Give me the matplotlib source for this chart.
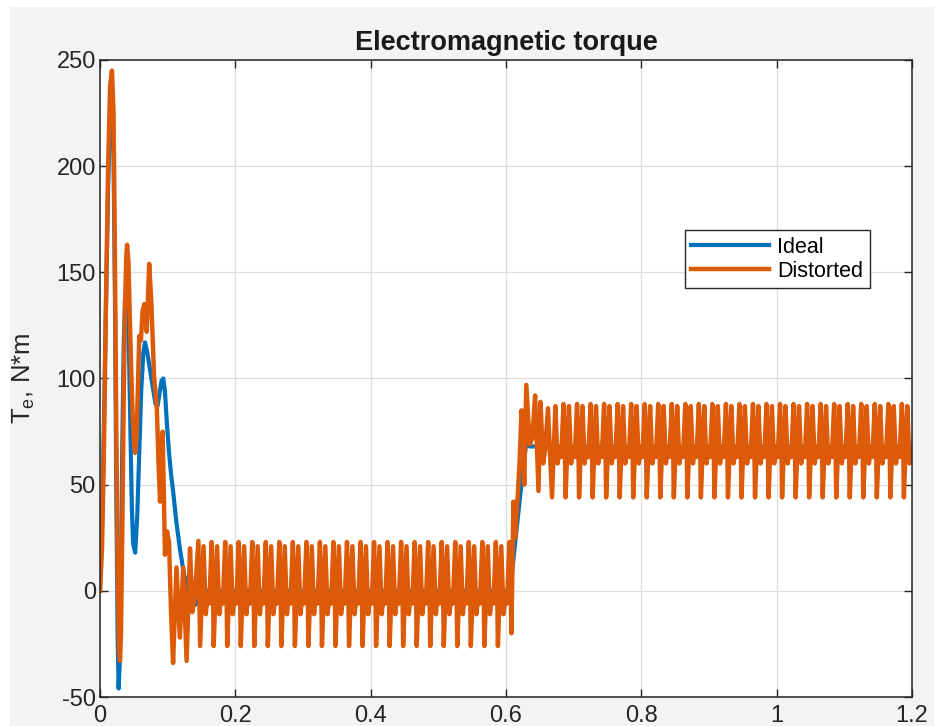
import numpy as np
import matplotlib
matplotlib.use("Agg")
import matplotlib.pyplot as plt
from matplotlib.patches import Rectangle

# --- DATA ---
# ideal torque, N*m
t_ideal = [0.000, 0.004, 0.008, 0.012, 0.015, 0.0175, 0.020, 0.022, 0.024, 0.026,
           0.0275, 0.029, 0.031, 0.033, 0.035, 0.037, 0.039, 0.041, 0.043, 0.045,
           0.047, 0.049, 0.052, 0.055, 0.058, 0.061, 0.064, 0.0665, 0.070, 0.074,
           0.078, 0.082, 0.085, 0.088, 0.091, 0.0935, 0.096, 0.099, 0.102, 0.105,
           0.108, 0.113, 0.118, 0.123, 0.128, 0.133, 0.138, 0.143, 0.148, 0.153,
           0.606, 0.612, 0.618, 0.624, 0.630, 0.635, 1.200]
te_ideal = [0, 45, 120, 190, 228, 236, 205, 140, 50, -20,
            -46, -35, 10, 70, 115, 138, 143, 135, 110, 75,
            40, 22, 18, 35, 65, 95, 112, 117, 112, 104,
            96, 88, 87, 93, 99, 100, 94, 78, 65, 55,
            47, 32, 20, 10, 2, -4, -7, -6, -2, 0,
            0, 18, 36, 54, 70, 68, 68]

# distorted torque: start-up transient
t_dist_start = [0.000, 0.003, 0.006, 0.009, 0.012, 0.015, 0.0177, 0.020, 0.022, 0.024,
                0.026, 0.028, 0.0296, 0.031, 0.033, 0.035, 0.037, 0.039, 0.040, 0.042,
                0.044, 0.046, 0.048, 0.050, 0.052, 0.054, 0.056, 0.058, 0.0605, 0.063,
                0.0655, 0.069, 0.0727, 0.076, 0.080, 0.0838, 0.0865, 0.0887, 0.0926, 0.096,
                0.099, 0.102, 0.105, 0.108, 0.113, 0.118, 0.123, 0.128, 0.133, 0.1365,
                0.140, 0.1454]
te_dist_start = [0, 20, 70, 140, 200, 238, 245, 225, 160, 80,
                 10, -28, -33, -20, 30, 90, 135, 158, 163, 155,
                 130, 105, 85, 70, 65, 72, 95, 120, 118, 132,
                 135, 122, 154, 135, 100, 88, 60, 42, 75, 17,
                 28, 23, -10, -34, 11, -22, 11, -33, 20, -10,
                 -3, 23.5]

# one ripple cycle (time after the deep dip, s) and its values in both load states
ripple_period = 0.02
cycle_offsets = [0.000, 0.0025, 0.005, 0.0083, 0.0110, 0.0135, 0.0170, 0.0190]
cycle_low = [-26, -2, 21, -11, -2, -6, 23, 0]
cycle_high = [44, 66, 87, 60, 67, 63, 88, 68]
low_first_dip, low_cycles = 0.148, 23
high_first_dip, high_cycles = 0.668, 27

# distorted torque: load step
t_dist_step = [0.608, 0.611, 0.6135, 0.617, 0.620, 0.623, 0.627, 0.630, 0.635, 0.639,
               0.643, 0.648, 0.651, 0.655, 0.658, 0.662]
te_dist_step = [-20, 42, 25, 43, 60, 85, 50, 97, 69, 72,
                92, 47, 89, 60, 67, 86]

x_ticks = [0, 0.2, 0.4, 0.6, 0.8, 1.0, 1.2]
x_tick_labels = ["0", "0.2", "0.4", "0.6", "0.8", "1", "1.2"]
y_ticks = [-50, 0, 50, 100, 150, 200, 250]


def ripple(first_dip, n, values):
    ts, vs = [], []
    for k in range(n):
        ts += [first_dip + k * ripple_period + o for o in cycle_offsets]
        vs += list(values)
    return ts, vs


t_low, te_low = ripple(low_first_dip, low_cycles, cycle_low)
t_high, te_high = ripple(high_first_dip, high_cycles, cycle_high)
t_dist = t_dist_start + t_low + t_dist_step + t_high
te_dist = te_dist_start + te_low + te_dist_step + te_high

# --- FIGURE ---
plt.rcParams["font.family"] = ["Liberation Sans", "DejaVu Sans"]
plt.rcParams["mathtext.fontset"] = "custom"
plt.rcParams["mathtext.rm"] = "Liberation Sans"
plt.rcParams["axes.unicode_minus"] = False

fig = plt.figure(figsize=(9.48, 7.26), dpi=100)
fig.patch.set_facecolor("white")
fig.add_artist(Rectangle((10 / 948, 0), 924 / 948, 719 / 726, transform=fig.transFigure,
                         facecolor="#f3f3f3", edgecolor="none", zorder=-10))

ax = fig.add_axes([100 / 948, 29 / 726, 812 / 948, 637 / 726])
ax.set_facecolor("white")

ax.plot(t_ideal, te_ideal, color="#0072BD", lw=3.0, label="Ideal")
ax.plot(t_dist, te_dist, color="#DC5A08", lw=3.2, label="Distorted")

ax.set_xlim(0, 1.2)
ax.set_ylim(-50, 250)
ax.set_xticks(x_ticks)
ax.set_xticklabels(x_tick_labels)
ax.set_yticks(y_ticks)

ax.grid(True, color="#dedede", linewidth=0.9)
ax.set_axisbelow(True)
ax.tick_params(direction="in", length=6, width=1.0, top=True, right=True,
               labelsize=17, colors="#262626")
ax.tick_params(axis="x", pad=6)
ax.tick_params(axis="y", pad=3)
for s in ax.spines.values():
    s.set_color("#262626")
    s.set_linewidth(1.1)

ax.set_title("Electromagnetic torque", fontsize=19.5, fontweight="bold", color="#1a1a1a", pad=7)
ax.set_ylabel(r"T$_\mathregular{e}$, N*m", fontsize=18.5, color="#262626")
ax.yaxis.set_label_coords(-0.077, 0.5)

leg = ax.legend(loc="upper right", bbox_to_anchor=(0.948, 0.733), fontsize=15.5,
                frameon=True, fancybox=False, framealpha=1, edgecolor="#262626",
                borderaxespad=0, handlelength=3.6, borderpad=0.3, labelspacing=0.15,
                handletextpad=0.4)
leg.get_frame().set_linewidth(1.0)

# --- SAVE ---
fig.savefig("out.png", dpi=100)
plt.close(fig)
